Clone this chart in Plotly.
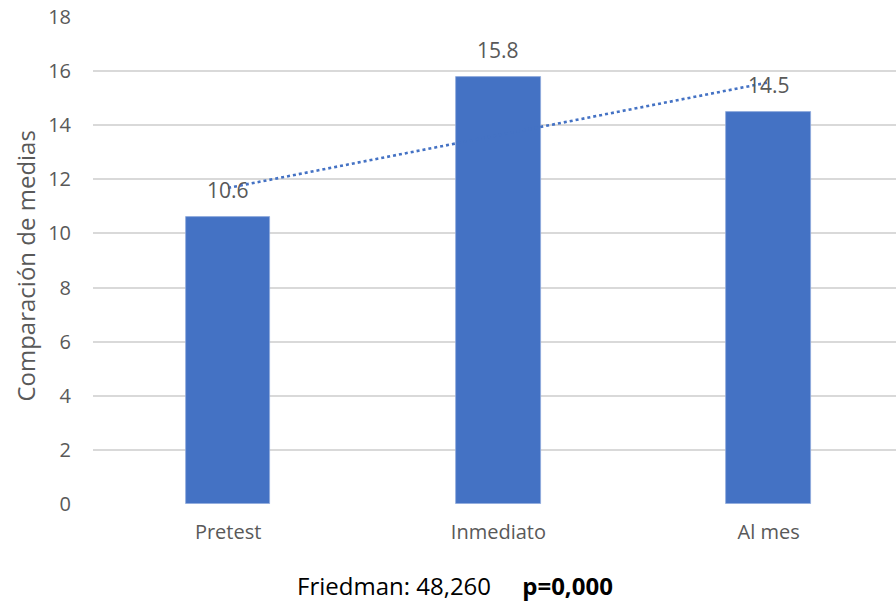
import numpy as np
import plotly.graph_objects as go

# Mean scores per assessment moment
categories = ["Pretest", "Inmediato", "Al mes"]
means = [10.6, 15.8, 14.5]
y_ticks = [0, 2, 4, 6, 8, 10, 12, 14, 16, 18]

BAR_COLOR = "#4472C4"
GRAY = "#595959"
FONT = "Open Sans"

# Linear trendline fitted through the means
xi = np.arange(len(means))
slope, intercept = np.polyfit(xi, means, 1)
trend = slope * xi + intercept

fig = go.Figure()
fig.add_trace(go.Bar(
    x=xi, y=means, width=0.313,
    marker=dict(color=BAR_COLOR, line=dict(color="#8FAADC", width=0.8)),
    showlegend=False, hoverinfo="y",
))
fig.add_trace(go.Scatter(
    x=xi, y=trend, mode="lines",
    line=dict(color=BAR_COLOR, width=2.6, dash="dot"),
    showlegend=False, hoverinfo="skip",
))

# Value labels above each bar
for i, v in enumerate(means):
    fig.add_annotation(x=i, y=v, text=f"{v:.1f}", showarrow=False,
                       yanchor="bottom", yshift=11,
                       font=dict(family=FONT, size=21, color=GRAY))

# Vertical axis title
fig.add_annotation(
    xref="paper", yref="paper", x=(24 - 93) / 810, y=(504 - 266) / 487,
    text="Comparación de medias", textangle=-90, showarrow=False,
    xanchor="center", yanchor="middle",
    font=dict(family=FONT, size=24, color=GRAY),
)

# Test statistic below the categories
fig.add_annotation(
    xref="paper", yref="paper", x=(458 - 93) / 810, y=0,
    text="Friedman: 48,260&nbsp;&nbsp;&nbsp;&nbsp;&nbsp;<b>p=0,000</b>",
    showarrow=False, xanchor="center", yanchor="middle", yshift=-81,
    font=dict(family=FONT, size=24, color="#000000"),
)

fig.update_layout(
    width=896, height=605,
    margin=dict(l=93, r=0, t=17, b=101, pad=0),
    paper_bgcolor="white", plot_bgcolor="white",
    bargap=0.0,
    xaxis=dict(
        range=[-0.5, 2.471], tickmode="array", tickvals=list(xi),
        ticktext=categories, showgrid=False, zeroline=False,
        showline=False, ticks="", ticklabelstandoff=14,
        tickfont=dict(family=FONT, size=20, color=GRAY),
    ),
    yaxis=dict(
        range=[0, 18], tickmode="array", tickvals=y_ticks,
        showgrid=True, gridcolor="#D9D9D9", gridwidth=1.5,
        zeroline=False, showline=False, ticks="",
        ticklabelstandoff=21,
        tickfont=dict(family=FONT, size=20, color=GRAY),
    ),
)

fig.write_html("out.html")
